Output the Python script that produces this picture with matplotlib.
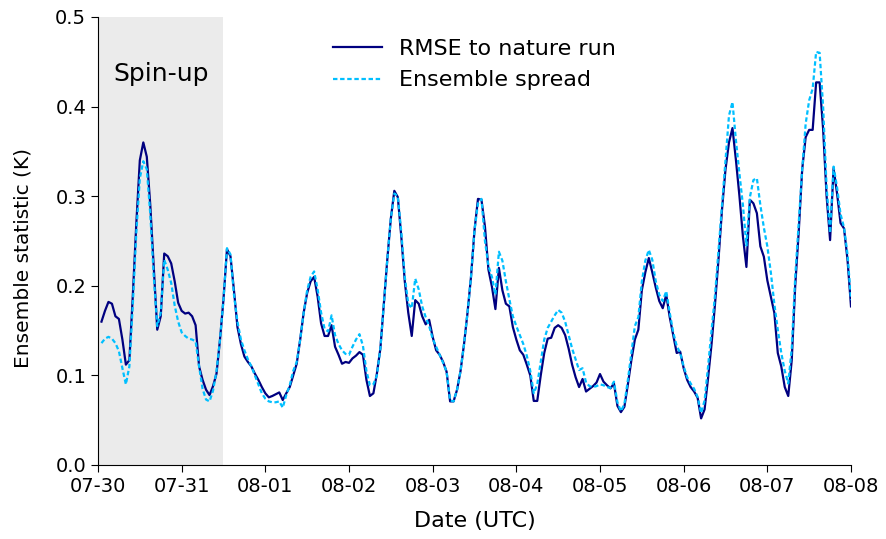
import matplotlib
matplotlib.use("Agg")
import matplotlib.pyplot as plt
import matplotlib.dates as mdates
import pandas as pd

# Hourly ensemble statistics, 07-30 01 UTC to 08-08 00 UTC
rmse = [
    0.160, 0.172, 0.182, 0.180, 0.166, 0.163, 0.140, 0.112, 0.117, 0.190,
    0.270, 0.340, 0.360, 0.344, 0.290, 0.220, 0.151, 0.166, 0.236, 0.233,
    0.225, 0.205, 0.181, 0.172, 0.169, 0.170, 0.166, 0.156, 0.110, 0.095,
    0.084, 0.078, 0.088, 0.102, 0.140, 0.185, 0.241, 0.233, 0.195, 0.154,
    0.135, 0.121, 0.115, 0.110, 0.102, 0.095, 0.087, 0.080, 0.0755, 0.077,
    0.079, 0.081, 0.0725, 0.080, 0.087, 0.100, 0.113, 0.140, 0.170, 0.192,
    0.205, 0.210, 0.188, 0.158, 0.144, 0.144, 0.156, 0.132, 0.123, 0.113,
    0.115, 0.114, 0.119, 0.122, 0.126, 0.123, 0.095, 0.077, 0.080, 0.102,
    0.130, 0.180, 0.230, 0.275, 0.306, 0.299, 0.255, 0.205, 0.170, 0.144,
    0.184, 0.180, 0.166, 0.157, 0.162, 0.143, 0.128, 0.123, 0.115, 0.104,
    0.071, 0.071, 0.084, 0.105, 0.135, 0.170, 0.210, 0.262, 0.297, 0.296,
    0.266, 0.218, 0.199, 0.174, 0.220, 0.195, 0.180, 0.177, 0.154, 0.140,
    0.128, 0.123, 0.112, 0.100, 0.0715, 0.0715, 0.100, 0.125, 0.141, 0.142,
    0.153, 0.156, 0.153, 0.145, 0.130, 0.112, 0.098, 0.087, 0.096, 0.082,
    0.085, 0.088, 0.092, 0.1015, 0.093, 0.089, 0.0855, 0.091, 0.066, 0.059,
    0.065, 0.090, 0.117, 0.140, 0.151, 0.195, 0.215, 0.231, 0.215, 0.198,
    0.183, 0.175, 0.190, 0.165, 0.145, 0.125, 0.1265, 0.108, 0.095, 0.087,
    0.082, 0.075, 0.052, 0.062, 0.097, 0.135, 0.180, 0.230, 0.285, 0.330,
    0.360, 0.376, 0.340, 0.300, 0.255, 0.221, 0.296, 0.292, 0.281, 0.244,
    0.2325, 0.206, 0.188, 0.170, 0.125, 0.110, 0.087, 0.077, 0.117, 0.200,
    0.260, 0.330, 0.366, 0.374, 0.374, 0.427, 0.427, 0.375, 0.300, 0.251,
    0.331, 0.303, 0.270, 0.264, 0.229, 0.177,
]

spread = [
    0.136, 0.141, 0.143, 0.141, 0.136, 0.127, 0.108, 0.090, 0.110, 0.180,
    0.260, 0.320, 0.339, 0.330, 0.280, 0.210, 0.155, 0.170, 0.229, 0.218,
    0.203, 0.178, 0.160, 0.148, 0.144, 0.141, 0.140, 0.138, 0.110, 0.085,
    0.073, 0.071, 0.083, 0.105, 0.140, 0.185, 0.242, 0.235, 0.190, 0.160,
    0.140, 0.128, 0.118, 0.110, 0.100, 0.090, 0.080, 0.074, 0.071, 0.070,
    0.070, 0.071, 0.064, 0.078, 0.089, 0.105, 0.115, 0.140, 0.170, 0.195,
    0.210, 0.216, 0.196, 0.170, 0.152, 0.149, 0.167, 0.145, 0.135, 0.128,
    0.124, 0.123, 0.132, 0.140, 0.146, 0.133, 0.105, 0.089, 0.090, 0.100,
    0.130, 0.180, 0.230, 0.275, 0.303, 0.300, 0.260, 0.210, 0.180, 0.175,
    0.208, 0.196, 0.177, 0.165, 0.155, 0.141, 0.132, 0.123, 0.114, 0.104,
    0.072, 0.071, 0.084, 0.105, 0.135, 0.170, 0.210, 0.262, 0.292, 0.297,
    0.250, 0.222, 0.210, 0.190, 0.238, 0.228, 0.205, 0.185, 0.166, 0.155,
    0.145, 0.135, 0.122, 0.105, 0.080, 0.090, 0.115, 0.140, 0.153, 0.160,
    0.167, 0.173, 0.170, 0.160, 0.145, 0.130, 0.118, 0.106, 0.108, 0.092,
    0.088, 0.087, 0.088, 0.090, 0.089, 0.087, 0.086, 0.093, 0.070, 0.060,
    0.068, 0.095, 0.125, 0.155, 0.165, 0.205, 0.228, 0.240, 0.229, 0.205,
    0.190, 0.183, 0.194, 0.170, 0.148, 0.133, 0.125, 0.110, 0.098, 0.091,
    0.085, 0.076, 0.058, 0.072, 0.110, 0.150, 0.190, 0.240, 0.290, 0.340,
    0.390, 0.405, 0.362, 0.325, 0.290, 0.245, 0.299, 0.318, 0.320, 0.290,
    0.265, 0.244, 0.215, 0.180, 0.151, 0.125, 0.105, 0.091, 0.130, 0.210,
    0.270, 0.330, 0.381, 0.407, 0.420, 0.461, 0.460, 0.400, 0.310, 0.259,
    0.333, 0.310, 0.280, 0.265, 0.235, 0.184,
]

times = pd.date_range("2023-07-30 01:00", periods=len(rmse), freq="h")
start = pd.Timestamp("2023-07-30 00:00")
end = pd.Timestamp("2023-08-08 00:00")
spinup_end = pd.Timestamp("2023-07-31 12:00")

plt.rcParams["font.family"] = "DejaVu Sans"

fig = plt.figure(figsize=(8.86, 5.39), dpi=100)
ax = fig.add_axes([0.1106, 0.1373, 0.8499, 0.8312])

ax.axvspan(start, spinup_end, color="#ebebeb", lw=0, zorder=0)
ax.text(start + pd.Timedelta(hours=18), 0.4365, "Spin-up", fontsize=18,
        ha="center", va="center")

ax.plot(times, rmse, color="navy", lw=1.6, label="RMSE to nature run", zorder=3)
ax.plot(times, spread, color="deepskyblue", lw=1.6, linestyle=(0, (2, 1.2)),
        label="Ensemble spread", zorder=4)

ax.set_xlim(start, end)
ax.set_ylim(0, 0.5)
ax.xaxis.set_major_locator(mdates.DayLocator())
ax.xaxis.set_major_formatter(mdates.DateFormatter("%m-%d"))
ax.set_yticks([0.0, 0.1, 0.2, 0.3, 0.4, 0.5])
ax.yaxis.set_major_formatter(matplotlib.ticker.FormatStrFormatter("%.1f"))
ax.tick_params(labelsize=14, length=5)

ax.spines["top"].set_visible(False)
ax.spines["right"].set_visible(False)

ax.set_xlabel("Date (UTC)", fontsize=16, labelpad=11)
ax.set_ylabel("Ensemble statistic (K)", fontsize=14.5, labelpad=16)
ax.yaxis.label.set_y(0.462)

ax.legend(loc="upper center", bbox_to_anchor=(0.5, 0.995), frameon=False,
          fontsize=16, handlelength=2.2)

fig.savefig("out.png", dpi=100)
